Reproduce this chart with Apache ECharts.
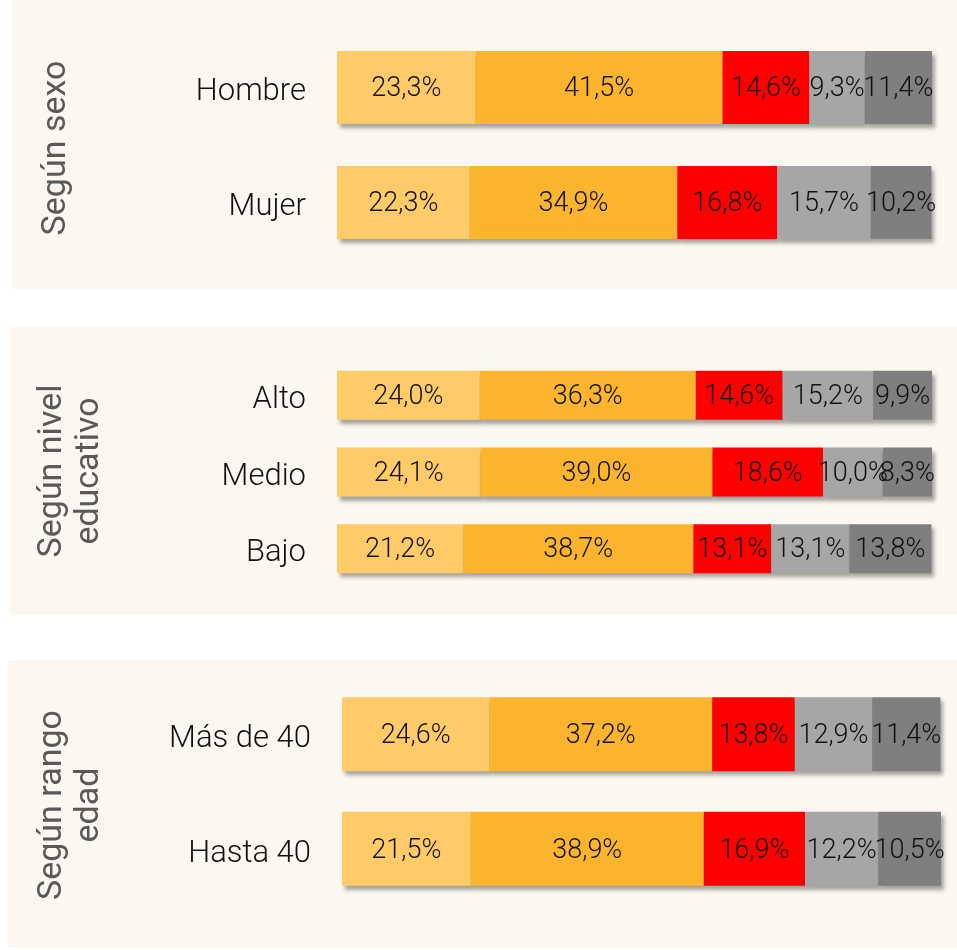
<!DOCTYPE html>
<html>
<head>
<meta charset="utf-8">
<script src="https://cdn.jsdelivr.net/npm/echarts@6/dist/echarts.min.js"></script>
<style>
  html, body { margin: 0; padding: 0; background: #ffffff; }
  #charts { width: 957px; height: 950px; }
</style>
</head>
<body>
<div id="charts"></div>
<script>
// categorias por bloque (de arriba hacia abajo)
var catSexo = ['Hombre', 'Mujer'];
var catEdu = ['Alto', 'Medio', 'Bajo'];
var catEdad = ['Más de 40', 'Hasta 40'];

// valores por tramo, uno por categoria
var sexo1 = [23.3, 22.3];
var sexo2 = [41.5, 34.9];
var sexo3 = [14.6, 16.8];
var sexo4 = [9.3, 15.7];
var sexo5 = [11.4, 10.2];

var edu1 = [24.0, 24.1, 21.2];
var edu2 = [36.3, 39.0, 38.7];
var edu3 = [14.6, 18.6, 13.1];
var edu4 = [15.2, 10.0, 13.1];
var edu5 = [9.9, 8.3, 13.8];

var edad1 = [24.6, 21.5];
var edad2 = [37.2, 38.9];
var edad3 = [13.8, 16.9];
var edad4 = [12.9, 12.2];
var edad5 = [11.4, 10.5];

var titles = ['Según sexo', 'Según nivel\neducativo', 'Según rango\nedad'];
var colors = ['#ffca68', '#fbb42d', '#ff0000', '#a6a6a6', '#7f7f7f'];

var myChart = echarts.init(document.getElementById('charts'));

/*
 ** formato de etiqueta con coma decimal
 */
function fmt(p) {
    return p.value.toFixed(1).replace('.', ',') + '%';
}

var blocks = [
    { cats: catSexo, data: [sexo1, sexo2, sexo3, sexo4, sexo5], grid: { left: 337, width: 595, top: 30, height: 230 }, bw: 73 },
    { cats: catEdu, data: [edu1, edu2, edu3, edu4, edu5], grid: { left: 337, width: 595, top: 357, height: 230 }, bw: 49 },
    { cats: catEdad, data: [edad1, edad2, edad3, edad4, edad5], grid: { left: 342, width: 599, top: 677, height: 229 }, bw: 74 }
];

var option = { animation: false, grid: [], xAxis: [], yAxis: [], series: [], graphic: [] };

// fondos de los paneles
var panels = [[12, 0, 945, 289], [10, 327, 947, 288], [8, 660, 949, 288]];
panels.forEach(function (p) {
    option.graphic.push({
        type: 'rect', z: -10, silent: true,
        shape: { x: p[0], y: p[1], width: p[2], height: p[3] },
        style: { fill: '#fcf8f1' }
    });
});

// titulos verticales
var titlePos = [[56, 148], [71, 471], [71, 805]];
titles.forEach(function (t, i) {
    option.graphic.push({
        type: 'text', x: titlePos[i][0], y: titlePos[i][1], rotation: Math.PI / 2, z: 10,
        style: {
            text: t, fill: '#595959', font: '34px Roboto', lineHeight: 37,
            align: 'center', verticalAlign: 'middle'
        }
    });
});

blocks.forEach(function (b, i) {
    option.grid.push(b.grid);
    option.xAxis.push({
        type: 'value', gridIndex: i, min: 0, max: 100, show: false
    });
    option.yAxis.push({
        type: 'category', gridIndex: i, data: b.cats, inverse: true,
        axisLine: { show: false }, axisTick: { show: false },
        axisLabel: {
            margin: 31,
            formatter: function (v) { return '{c|' + v + '}'; },
            rich: { c: { color: '#111', fontSize: 31, fontWeight: 300, fontFamily: 'Roboto', padding: [10, 0, 0, 0] } }
        }
    });
    b.data.forEach(function (d, k) {
        option.series.push({
            type: 'bar', xAxisIndex: i, yAxisIndex: i, stack: 'b' + i,
            data: d, barWidth: b.bw,
            itemStyle: {
                color: colors[k],
                shadowColor: 'rgba(0,0,0,0.35)', shadowBlur: 4, shadowOffsetX: 3, shadowOffsetY: 4
            },
            label: {
                show: true, position: 'inside', formatter: fmt, offset: [0, 2],
                color: '#111', fontSize: 27, fontWeight: 300, fontFamily: 'Roboto'
            }
        });
    });
});

myChart.setOption(option);
</script>
</body>
</html>
